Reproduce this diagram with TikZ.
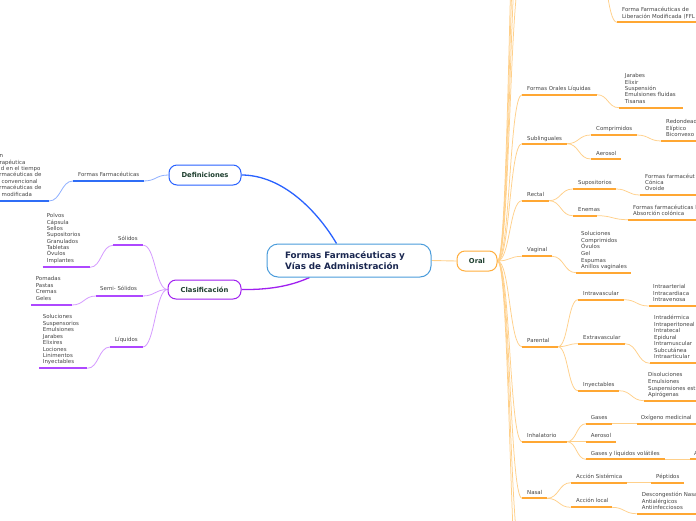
\documentclass[tikz,border=0pt]{standalone}
\usepackage{fontspec}
\setmainfont{DejaVu Sans}
\usetikzlibrary{calc}
\definecolor{cblue}{HTML}{4A9CDB}
\definecolor{dblue}{HTML}{2962FF}
\definecolor{blueul}{HTML}{2F6DF6}
\definecolor{bluecon}{HTML}{8FB0FF}
\definecolor{cpurple}{HTML}{A020F0}
\definecolor{purpleul}{HTML}{AE48FF}
\definecolor{purplecon}{HTML}{D59BFF}
\definecolor{corange}{HTML}{FFAE3D}
\definecolor{orangeul}{HTML}{FFA733}
\definecolor{orangecon}{HTML}{FFD08A}
\definecolor{txtgray}{HTML}{444444}
\definecolor{dgreen}{HTML}{1E3F2F}
\definecolor{navy}{HTML}{1A2750}
\pgfdeclarelayer{bg}
\pgfsetlayers{bg,main}
\tikzset{
  lbl/.style={font=\fontsize{5.45}{6.4}\selectfont, text=txtgray, inner sep=0pt, anchor=base west},
  topic/.style={rounded corners=8pt, line width=1pt, fill=white, inner sep=0pt,
    font=\bfseries\fontsize{6.8}{8}\selectfont, text=dgreen},
  centerbox/.style={draw=cblue, line width=1pt, rounded corners=11pt, fill=white,
    minimum width=164pt, minimum height=33pt, text width=128pt, align=left, inner sep=0pt,
    font=\bfseries\fontsize{8.8}{10.7}\selectfont, text=navy},
  bul/.style={draw=blueul, line width=1.7pt},
  bcon/.style={draw=bluecon, line width=0.8pt},
  pul/.style={draw=purpleul, line width=1.7pt},
  pcon/.style={draw=purplecon, line width=0.8pt},
  oul/.style={draw=orangeul, line width=1.7pt},
  ocon/.style={draw=orangecon, line width=0.75pt},
  olink/.style={draw=orangecon, line width=1.4pt},
}
\newcommand\uline[5]{\coordinate (#2-l) at (#3,#5); \coordinate (#2-r) at (#4,#5); \draw[#1] (#2-l) -- (#2-r);}
\newcommand\conn[4]{\begin{pgfonlayer}{bg}\draw[#1] (#2) .. controls +(#4,0) and +(-#4,0) .. (#3);\end{pgfonlayer}}
\newcommand\lst[5]{\foreach \t [count=\i] in {#5} {\node[lbl] (#1-\i) at (#2,{#3+(\i-1)*#4}) {\t};}}
\begin{document}
\begin{tikzpicture}[x=1pt,y=-1pt]
\useasboundingbox (0,0) rectangle (696,520);
\begin{pgfonlayer}{bg}
\fill[white] (0,0) rectangle (696,520);
\end{pgfonlayer}
\clip (0,0) rectangle (696,520);

% main nodes
\node[centerbox] (main) at (349,260.5) {Formas Farmacéuticas y\\Vías de Administración};
\node[topic, draw=dblue, minimum width=72pt, minimum height=20pt] (def) at (205,175) {Definiciones};
\node[topic, draw=cpurple, minimum width=73pt, minimum height=19pt] (cla) at (204.5,289.5) {Clasificación};
\node[topic, draw=corange, minimum width=40pt, minimum height=20pt] (oral) at (477,261) {Oral};

\begin{pgfonlayer}{bg}
\draw[dblue, line width=1.3pt] (def.east) .. controls (283,175) and (318,212) .. ([xshift=70pt]main.north west);
\draw[cpurple, line width=1.3pt] (cla.east) .. controls (275,290) and (295,284) .. ([xshift=43pt]main.south west);
\draw[orangecon, line width=0.9pt] (main.east) -- (oral.west);
\end{pgfonlayer}

% ---------- Definiciones branch ----------
\uline{bul}{ffa}{73}{143.5}{181}
\node[lbl] (ffat) at (78,176.9) {Formas Farmacéuticas};
\conn{bcon}{ffa-r}{def.west}{12.7}
\uline{bul}{ffb}{-5}{49}{201}
\conn{bcon}{ffb-r}{ffa-l}{12}
\foreach \xx/\t [count=\i] in {-0.6/n,-0.6/rapéutica,0.8/d en el tiempo,-0.8/rmacéuticas de,1.5/convencional,-0.8/rmacéuticas de,1.5/modificada}
  {\node[lbl] (frag-\i) at (\xx,{157.6+(\i-1)*6.43}) {\t};}

% ---------- Clasificación branch ----------
\uline{pul}{sol}{113}{143.3}{245.3}
\node[lbl] (solt) at (118,240.9) {Sólidos};
\uline{pul}{sem}{96}{142.7}{296}
\node[lbl] (semt) at (100,290.9) {Semi- Sólidos};
\uline{pul}{liq}{110}{142.7}{347}
\node[lbl] (liqt) at (115,341.9) {Líquidos};
\conn{pcon}{sol-r}{cla.west}{12}
\conn{pcon}{sem-r}{cla.west}{12}
\conn{pcon}{liq-r}{cla.west}{12}
\uline{pul}{soll}{42.7}{90}{267.3}
\conn{pcon}{soll-r}{sol-l}{11.5}
\lst{solx}{46.7}{217.9}{6.33}{Polvos,Cápsula,Sellos,Supositorios,Granulados,Tabletas,Óvulos,Implantes}
\uline{pul}{seml}{31}{72}{305}
\conn{pcon}{seml-r}{sem-l}{12}
\lst{semx}{35.7}{280.9}{6.5}{Pomadas,Pastas,Cremas,Geles}
\uline{pul}{liql}{39}{87.3}{368.3}
\conn{pcon}{liql-r}{liq-l}{11.5}
\lst{liqx}{42.7}{318.9}{6.43}{Soluciones,Suspensorios,Emulsiones,Jarabes,Elixires,Lociones,Linimentos,Inyectables}

% ---------- Oral branch ----------
\uline{oul}{fol}{522}{597}{94.7}
\node[lbl] (folt) at (527,90.9) {Formas Orales Líquidas};
\uline{oul}{sub}{522}{567}{143.7}
\node[lbl] (subt) at (527,140.2) {Sublinguales};
\uline{oul}{rec}{522}{549}{200.7}
\node[lbl] (rect) at (527,196.9) {Rectal};
\uline{oul}{vag}{522}{552}{256.3}
\node[lbl] (vagt) at (527,251.9) {Vaginal};
\uline{oul}{par}{522}{558}{346.7}
\node[lbl] (part) at (527,342.6) {Parental};
\uline{oul}{inh}{522}{567}{441.7}
\node[lbl] (inht) at (527,437.9) {Inhalatorio};
\uline{oul}{nas}{522}{547}{498.3}
\node[lbl] (nast) at (527,494.2) {Nasal};
\coordinate (top1) at (522,-30);
\coordinate (top2) at (522,-85);
\coordinate (top3) at (522,-150);
\coordinate (top4) at (522,-220);
\coordinate (bot1) at (522,560);
\coordinate (bot2) at (522,620);
\foreach \n in {fol-l,sub-l,rec-l,vag-l,par-l,inh-l,nas-l,top1,top2,top3,top4,bot1,bot2}
  {\conn{ocon}{oral.east}{\n}{12.5}}

% top offscreen child
\coordinate (ffl-p) at (596,-45);
\uline{oul}{ffl}{617}{700}{22.3}
\conn{ocon}{ffl-p}{ffl-l}{10.5}
\node[lbl] (fflt1) at (622,11.6) {Forma Farmacéuticas de};
\node[lbl] (fflt2) at (622,18) {Liberación Modificada (FFL};

% Formas Orales Liquidas
\uline{oul}{folx}{619}{683}{107.7}
\conn{ocon}{fol-r}{folx-l}{11}
\lst{folz}{624.7}{77.9}{6.35}{Jarabes,Elixir,Suspensión,Emulsiones fluidas,Tisanas}

% Sublinguales
\uline{oul}{comp}{590.7}{636.7}{135}
\node[lbl] (compt) at (596,130.9) {Comprimidos};
\uline{oul}{aer}{590.7}{620.7}{159}
\node[lbl] (aert) at (596,155.2) {Aerosol};
\conn{ocon}{sub-r}{comp-l}{12}
\conn{ocon}{sub-r}{aer-l}{12}
\uline{oul}{compx}{661.3}{700}{141}
\conn{ocon}{comp-r}{compx-l}{12.3}
\lst{compz}{666}{123.6}{6.65}{Redondeado,Elíptico,Biconvexo}

% Rectal
\uline{oul}{sup}{572.7}{616}{189}
\node[lbl] (supt) at (578,184.9) {Supositorios};
\uline{oul}{ene}{572.7}{597}{215.7}
\node[lbl] (enet) at (578,211.6) {Enemas};
\conn{ocon}{rec-r}{sup-l}{12}
\conn{ocon}{rec-r}{ene-l}{12}
\uline{oul}{supx}{640}{700}{195}
\conn{ocon}{sup-r}{supx-l}{12}
\lst{supz}{645}{178.2}{6.35}{Formas farmacéut,Cónica,Ovoide}
\uline{oul}{enex}{628}{700}{219.7}
\conn{ocon}{ene-r}{enex-l}{15.5}
\lst{enez}{633}{209.2}{6.7}{Formas farmacéuticas l,Absorción colónica}

% Vaginal
\uline{oul}{vagx}{576}{631}{272.7}
\conn{ocon}{vag-r}{vagx-l}{12}
\lst{vagz}{581}{235.6}{6.66}{Soluciones,Comprimidos,Óvulos,Gel,Espumas,Anillos vaginales}

% Parental
\uline{oul}{iv}{578}{624}{299.7}
\node[lbl] (ivt) at (583,295.9) {Intravascular};
\uline{oul}{ev}{578}{625}{343.7}
\node[lbl] (evt) at (583,339.6) {Extravascular};
\uline{oul}{iny}{578}{619}{390.7}
\node[lbl] (inyt) at (583,386.2) {Inyectables};
\conn{ocon}{par-r}{iv-l}{10}
\conn{ocon}{par-r}{ev-l}{10}
\conn{ocon}{par-r}{iny-l}{10}
\uline{oul}{ivx}{648.7}{700}{306}
\conn{ocon}{iv-r}{ivx-l}{12.3}
\lst{ivz}{653}{288.6}{6.5}{Intraarterial,Intracardiaca,Intravenosa}
\uline{oul}{evx}{650}{700}{363.3}
\conn{ocon}{ev-r}{evx-l}{12.5}
\lst{evz}{654}{319.6}{6.5}{Intradérmica,Intraperitoneal,Intratecal,Epidural,Intramuscular,Subcutánea,Intraarticular}
\uline{oul}{inyx}{644}{700}{400.7}
\conn{ocon}{iny-r}{inyx-l}{12.5}
\lst{inyz}{648}{376.9}{6.67}{Disoluciones,Emulsiones,Suspensiones est,Apirógenas}

% Inhalatorio
\uline{oul}{gas}{586}{612}{423.7}
\node[lbl] (gast) at (590.7,419.6) {Gases};
\uline{oul}{aer2}{586}{616}{441.7}
\node[lbl] (aer2t) at (590.7,437.9) {Aerosol};
\uline{oul}{gvl}{586}{665}{459.3}
\node[lbl] (gvlt) at (590.7,455.6) {Gases y líquidos volátiles};
\conn{ocon}{inh-r}{gas-l}{9.5}
\conn{ocon}{inh-r}{aer2-l}{9.5}
\conn{ocon}{inh-r}{gvl-l}{9.5}
\uline{oul}{oxi}{636.7}{700}{423.7}
\node[lbl] (oxit) at (640.7,419.6) {Oxígeno medicinal};
\begin{pgfonlayer}{bg}\draw[olink] (gas-r) -- (oxi-l);\end{pgfonlayer}
\uline{oul}{ax}{690}{700}{459.3}
\node[lbl] (axt) at (694,455.6) {A};
\begin{pgfonlayer}{bg}\draw[olink] (gvl-r) -- (ax-l);\end{pgfonlayer}

% Nasal
\uline{oul}{asis}{570.7}{626.7}{482.7}
\node[lbl] (asist) at (576,478.6) {Acción Sistémica};
\uline{oul}{aloc}{570.7}{612}{507.3}
\node[lbl] (aloct) at (576,502.9) {Acción local};
\conn{ocon}{nas-r}{asis-l}{12}
\conn{ocon}{nas-r}{aloc-l}{12}
\uline{oul}{pep}{650.7}{684}{482.7}
\node[lbl] (pept) at (656,478.6) {Péptidos};
\begin{pgfonlayer}{bg}\draw[olink] (asis-r) -- (pep-l);\end{pgfonlayer}
\uline{oul}{alocx}{636.7}{700}{513.7}
\conn{ocon}{aloc-r}{alocx-l}{12.3}
\lst{alocz}{641.7}{496.9}{6.35}{Descongestión Nasa,Antialérgicos,Antiinfecciosos}
\end{tikzpicture}
\end{document}
